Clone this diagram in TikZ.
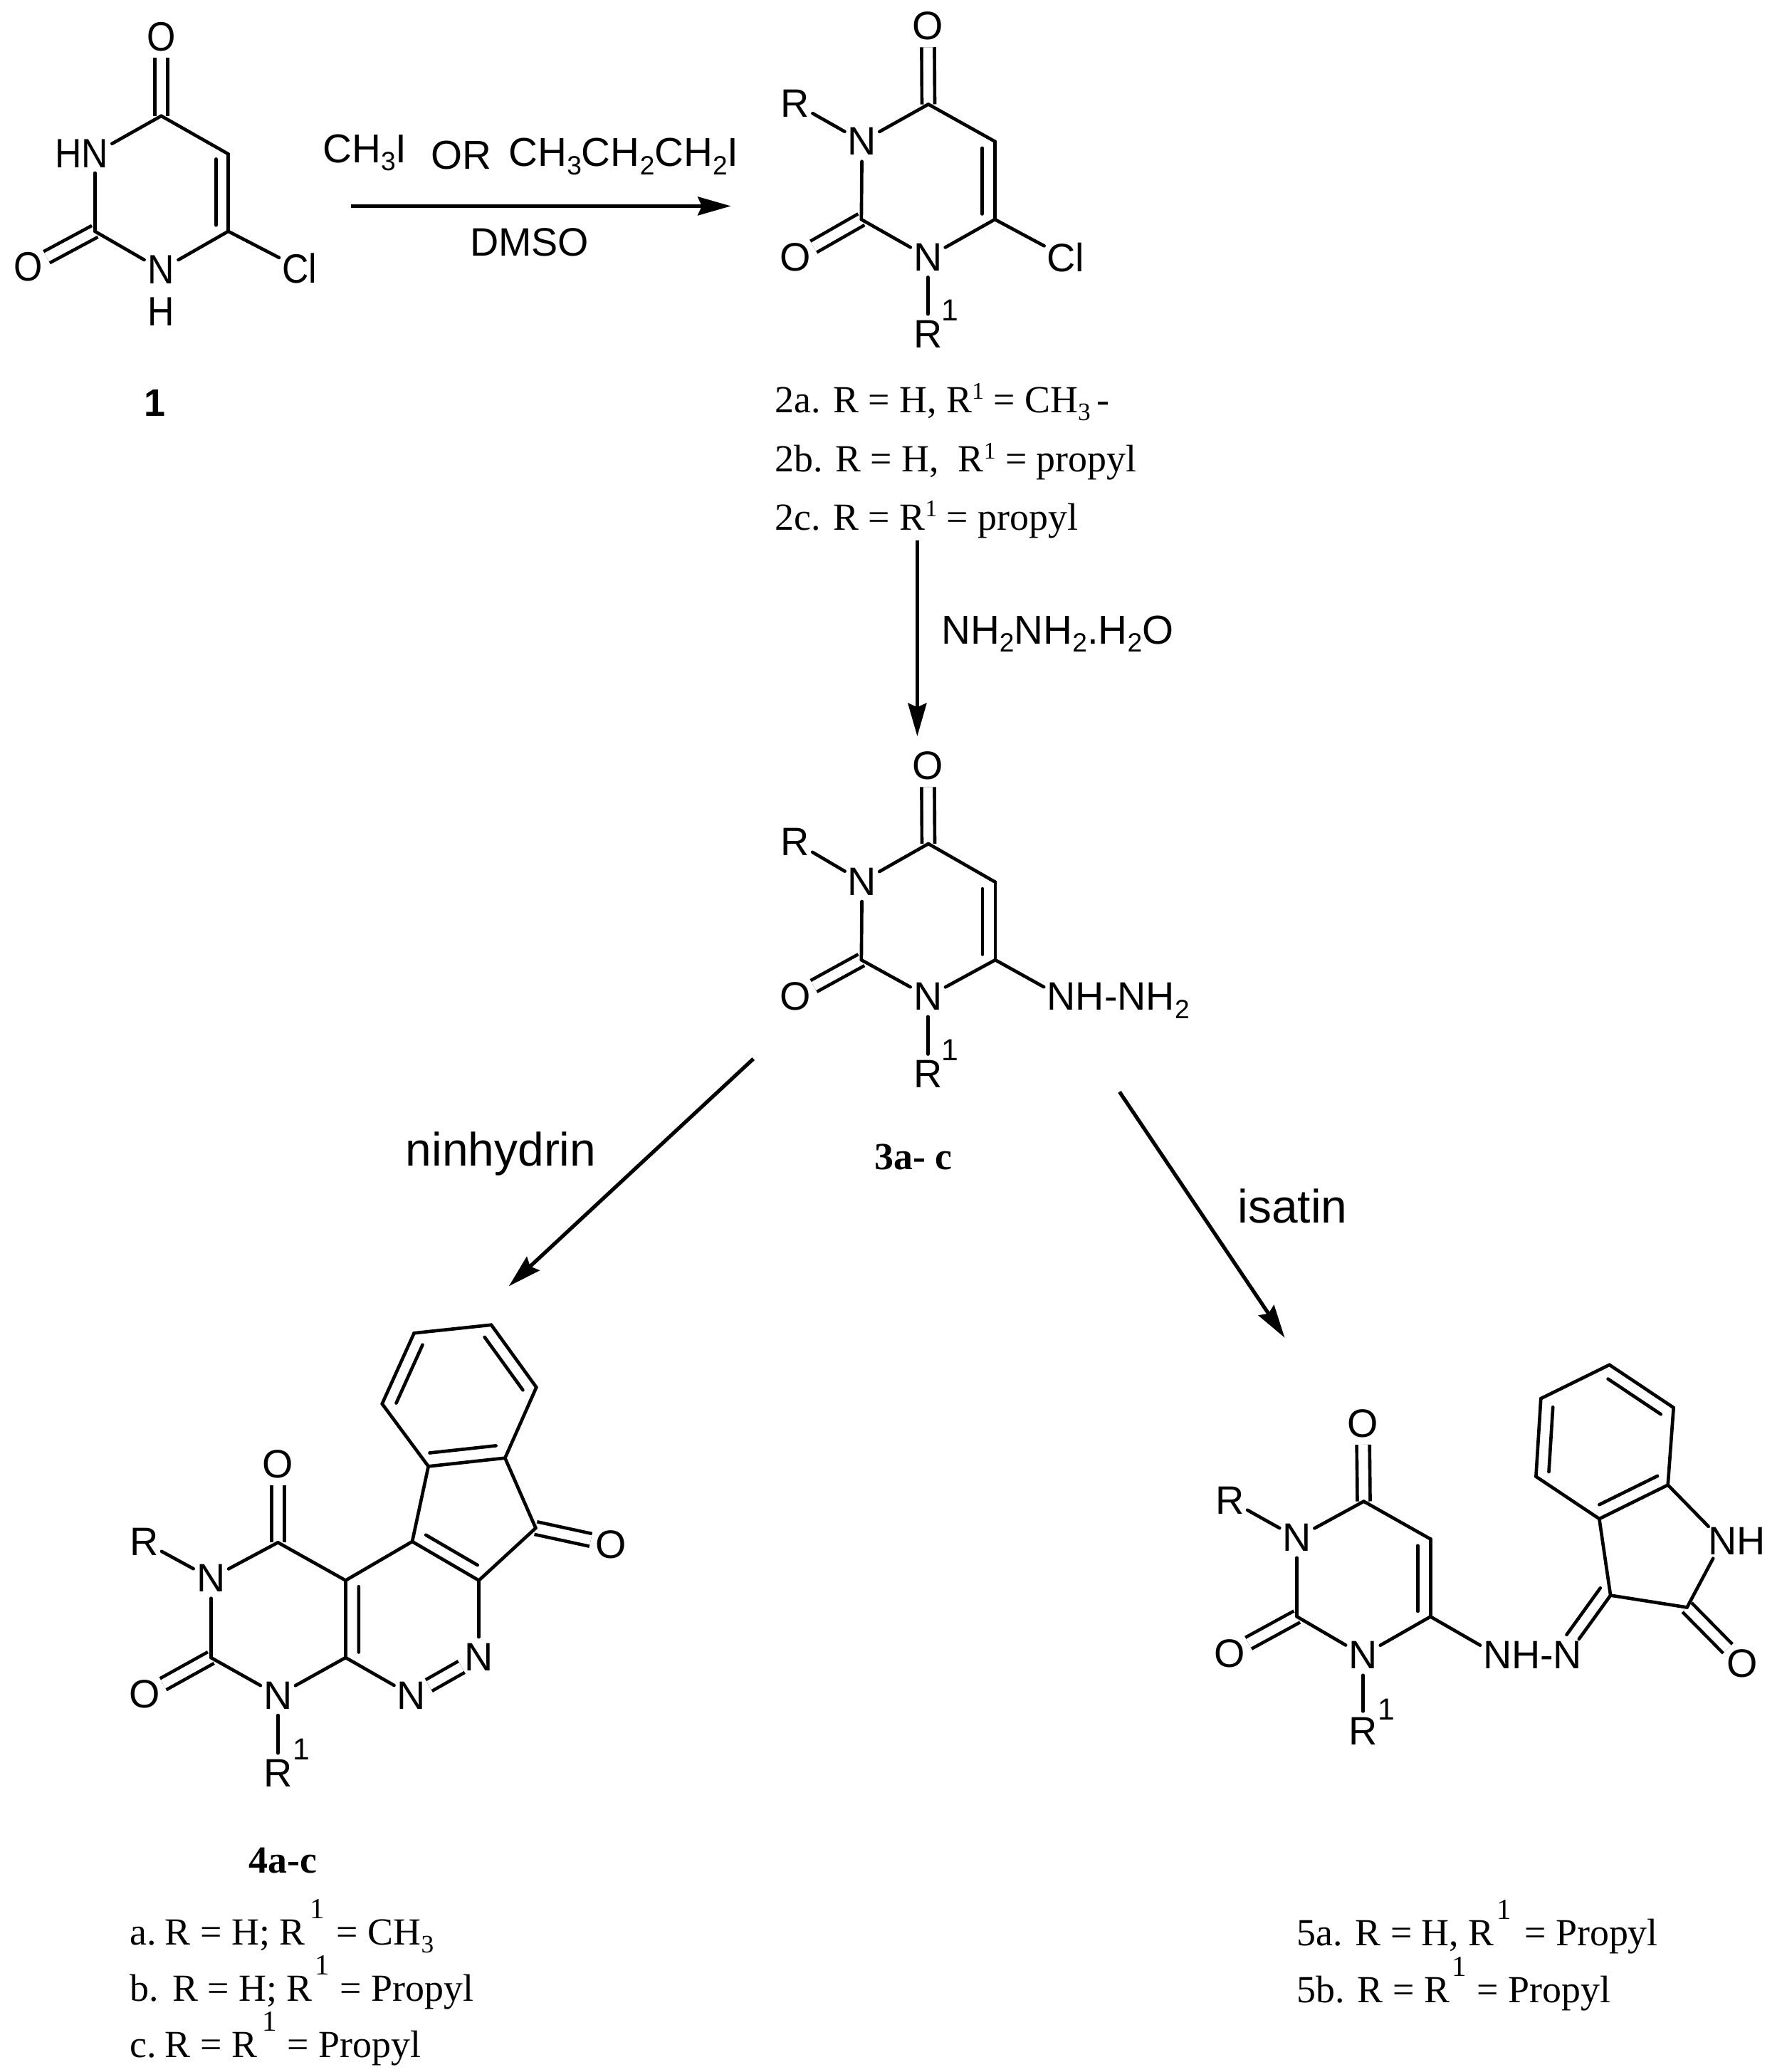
\documentclass[tikz,border=0pt]{standalone}
\usepackage{fontspec}
\setmainfont{Liberation Serif}
\setsansfont{Liberation Sans}
\newfontfamily\narrowsans[FakeStretch=0.9]{Liberation Sans}
\usepackage{tikz}
\usetikzlibrary{calc}
\usetikzlibrary{arrows.meta}

\newcommand{\sbs}[1]{\raisebox{-6pt}{\fontsize{20}{20}\selectfont #1}}
\newcommand{\tsb}[1]{\raisebox{-6pt}{\fontsize{19}{19}\selectfont #1}}
\newcommand{\tsp}[1]{\raisebox{10pt}{\fontsize{18}{18}\selectfont #1}}
\newcommand{\bsp}[1]{\raisebox{20pt}{\fontsize{22}{22}\selectfont #1}}
\newcommand{\innerbond}[5]{\draw [bond] ($(#1)!#4!(#2)!#3!90:(#2)$)-- ($(#1)!#5!(#2)!#3!90:(#2)$);}

\begin{document}
\begin{tikzpicture}[x=1pt,y=-1pt,>={Stealth[length=25pt,width=14pt,inset=3pt]},
  atom/.style={circle,inner sep=0pt,font=\sffamily\fontsize{30}{30}\selectfont},
  narrow atom/.style={circle,inner sep=0pt,font=\narrowsans\fontsize{31}{31}\selectfont},
  sup/.style={inner sep=0pt,font=\sffamily\fontsize{23}{23}\selectfont},
  lab/.style={inner sep=0pt,anchor=base west,font=\sffamily\fontsize{30.5}{30.5}\selectfont},
  cmpd/.style={inner sep=0pt,anchor=base,font=\rmfamily\bfseries\fontsize{29}{29}\selectfont},
  capt/.style={inner sep=0pt,anchor=base west,font=\rmfamily\fontsize{29}{29}\selectfont},
  bond/.style={line width=2.5pt,line cap=round},
  cobond/.style={line width=2.5pt,double,double distance=7.2pt},
  step arrow/.style={line width=2.8pt,->}]

\useasboundingbox (0,0) rectangle (1352,1567.5);

\node [narrow atom] (oa4) at (122,28) {O};
\node [narrow atom] (oa2) at (21.5,202) {O};
\node [narrow atom] (na3) at (71.8,116) {\llap{H}N};
\node [narrow atom] (na1) at (122,204) {N};
\node [narrow atom] (ha1) at (122,236) {H};
\node [narrow atom] (cla) at (226.8,203) {Cl};
\coordinate (ca4) at (122,87.7);
\coordinate (ca5) at (172.7,116.5);
\coordinate (ca6) at (172.7,175);
\coordinate (ca2) at (71.8,175);
\draw [cobond] (ca4)-- (oa4);
\draw [cobond] (ca2)-- (oa2);
\draw [bond] (na3)-- (ca4);
\draw [bond] (ca4)-- (ca5);
\draw [bond] (ca5)-- (ca6);
\draw [bond] (ca6)-- (na1);
\draw [bond] (na1)-- (ca2);
\draw [bond] (ca2)-- (na3);
\draw [bond] (ca6)-- (cla);
\innerbond{ca5}{ca6}{-9.2pt}{.065}{.92}
\node [cmpd,font=\sffamily\bfseries\fontsize{29}{29}\selectfont] (ta) at (117,315) {1};

\node [lab] (ra) at (244,123) {CH\sbs{3}I};
\node [lab] (rb) at (325.8,127.8) {OR};
\node [lab] (rc) at (384.7,126) {CH\sbs{3}CH\sbs{2}CH\sbs{2}I};
\node [lab,anchor=base,font=\sffamily\fontsize{30}{30}\selectfont] (rd) at (400.6,193.4) {DMSO};
\coordinate (sa) at (265.7,155.9);
\coordinate (ea) at (553,155.9);
\draw [step arrow] (sa)-- (ea);

\node [atom] (ob4) at (702,19.8) {O};
\node [atom] (ob2) at (601.7,194.6) {O};
\node [atom] (nb3) at (652.2,107) {N};
\node [atom] (nb1) at (702,194.6) {N};
\node [atom] (rb3) at (601.7,78.3) {R};
\node [atom] (rb1) at (702,252.8) {R};
\node [sup] (sb1) at (719,235) {1};
\node [atom] (clb) at (806,194.6) {Cl};
\coordinate (cb4) at (702.4,78.9);
\coordinate (cb5) at (752.7,107);
\coordinate (cb6) at (752.7,166);
\coordinate (cb2) at (651.7,166);
\draw [cobond] (cb4)-- (ob4);
\draw [cobond] (cb2)-- (ob2);
\draw [bond] (nb3)-- (cb4);
\draw [bond] (cb4)-- (cb5);
\draw [bond] (cb5)-- (cb6);
\draw [bond] (cb6)-- (nb1);
\draw [bond] (nb1)-- (cb2);
\draw [bond] (cb2)-- (nb3);
\draw [bond] (cb6)-- (clb);
\draw [bond] (nb3)-- (rb3);
\draw [bond] (nb1)-- (rb1);
\innerbond{cb5}{cb6}{-9.7pt}{.085}{.93}
\node [capt] (tb1) at (586,312) {2a. R = H, R\tsp{1} = CH\tsb{3}\,-};
\node [capt] (tb2) at (586,357) {2b. R = H, \ R\tsp{1} = propyl};
\node [capt] (tb3) at (586,401) {2c. R = R\tsp{1} = propyl};

\coordinate (sb) at (694,409);
\coordinate (eb) at (694,557);
\draw [step arrow] (sb)-- (eb);
\node [lab] (rf) at (712,487) {NH\sbs{2}NH\sbs{2}.H\sbs{2}O};

\node [atom] (oc4) at (702,579.5) {O};
\node [atom] (oc2) at (601.7,753.7) {O};
\node [atom] (nc3) at (652.2,666.8) {N};
\node [atom] (nc1) at (702,754) {N};
\node [atom] (rc3) at (601.7,637) {R};
\node [atom] (rc1) at (702,812.6) {R};
\node [sup] (sc1) at (719,794.5) {1};
\node [atom] (nc6) at (803,754) {N\smash{\rlap{H-NH\sbs{2}}}};
\coordinate (cc4) at (702.4,638.3);
\coordinate (cc5) at (753,667.3);
\coordinate (cc6) at (753,726.2);
\coordinate (cc2) at (651.7,726.2);
\draw [cobond] (cc4)-- (oc4);
\draw [cobond] (cc2)-- (oc2);
\draw [bond] (nc3)-- (cc4);
\draw [bond] (cc4)-- (cc5);
\draw [bond] (cc5)-- (cc6);
\draw [bond] (cc6)-- (nc1);
\draw [bond] (nc1)-- (cc2);
\draw [bond] (cc2)-- (nc3);
\draw [bond] (cc6)-- (nc6);
\draw [bond] (nc3)-- (rc3);
\draw [bond] (nc1)-- (rc1);
\innerbond{cc5}{cc6}{-9.7pt}{.085}{.93}
\node [cmpd] (tc) at (691,885) {3a- c};

\coordinate (sc) at (570,801);
\coordinate (ec) at (385,973);
\coordinate (sd) at (847,826);
\coordinate (ed) at (972,1012);
\draw [step arrow] (sc)-- (ec);
\draw [step arrow] (sd)-- (ed);
\node [lab,anchor=base,font=\sffamily\fontsize{35.5}{35.5}\selectfont] (rg) at (379,882) {ninhydrin};
\node [lab,anchor=base,font=\sffamily\fontsize{35.5}{35.5}\selectfont] (rh) at (978,925) {isatin};

\node [atom] (od4) at (210.3,1107.5) {O};
\node [atom] (od2) at (109.5,1281.8) {O};
\node [atom] (od9) at (462.5,1168.4) {O};
\node [atom] (nd3) at (159.6,1194) {N};
\node [atom] (nd1) at (210.3,1282.5) {N};
\node [atom] (nd7) at (311.3,1282.5) {N};
\node [atom] (nd8) at (362.3,1253.5) {N};
\node [atom] (rd3) at (109,1166.4) {R};
\node [atom] (rd1) at (210.3,1341.4) {R};
\node [sup] (sd1) at (227.8,1323.3) {1};
\coordinate (cd4) at (210.3,1166.9);
\coordinate (cd5) at (261.5,1195.6);
\coordinate (cd6) at (261.5,1254);
\coordinate (cd2) at (159.6,1254);
\coordinate (cd10) at (311.9,1166.2);
\coordinate (cd9) at (362.3,1195.6);
\coordinate (cd11) at (324.1,1109.3);
\coordinate (cd12) at (382.1,1103);
\coordinate (cd13) at (405.3,1156);
\coordinate (be1) at (289.1,1062);
\coordinate (be2) at (313.3,1008.5);
\coordinate (be3) at (371.7,1002.3);
\coordinate (be4) at (405.8,1049.5);
\draw [cobond] (cd4)-- (od4);
\draw [cobond] (cd2)-- (od2);
\draw [cobond] (cd13)-- (od9);
\draw [cobond] (nd7)-- (nd8);
\draw [bond] (nd3)-- (cd4);
\draw [bond] (cd4)-- (cd5);
\draw [bond] (cd5)-- (cd6);
\draw [bond] (cd6)-- (nd1);
\draw [bond] (nd1)-- (cd2);
\draw [bond] (cd2)-- (nd3);
\draw [bond] (nd3)-- (rd3);
\draw [bond] (nd1)-- (rd1);
\draw [bond] (cd5)-- (cd10);
\draw [bond] (cd10)-- (cd9);
\draw [bond] (cd9)-- (nd8);
\draw [bond] (cd6)-- (nd7);
\draw [bond] (cd10)-- (cd11);
\draw [bond] (cd11)-- (cd12);
\draw [bond] (cd12)-- (cd13);
\draw [bond] (cd13)-- (cd9);
\draw [bond] (cd11)-- (be1);
\draw [bond] (be1)-- (be2);
\draw [bond] (be2)-- (be3);
\draw [bond] (be3)-- (be4);
\draw [bond] (be4)-- (cd12);
\innerbond{cd5}{cd6}{9.9pt}{.08}{.93}
\innerbond{cd10}{cd9}{9.5pt}{.11}{.885}
\innerbond{cd11}{cd12}{10pt}{.035}{.9}
\innerbond{be2}{be1}{9.5pt}{.092}{.916}
\innerbond{be3}{be4}{-9.5pt}{.078}{.927}
\node [cmpd] (td) at (214,1417) {4a-c};
\node [capt] (td1) at (98,1471.4) {a.\hspace{-3pt} R = H; R\hspace{4pt}\bsp{1}\hspace{9pt}= CH\tsb{3}};
\node [capt] (td2) at (98,1513.7) {b. \hspace{1pt}R = H; R\hspace{2pt}\bsp{1}\hspace{8pt}= Propyl};
\node [capt] (td3) at (98,1556.7) {c.\hspace{-3pt} R = R\hspace{4pt}\bsp{1}\hspace{8pt}= Propyl};

\node [atom] (oe4) at (1031.2,1077) {O};
\node [atom] (oe2) at (930.6,1250.7) {O};
\node [atom] (ne3) at (981.3,1163.4) {N};
\node [atom] (ne1) at (1031.2,1252.2) {N};
\node [atom] (re3) at (930.6,1135) {R};
\node [atom] (re1) at (1031.2,1309.7) {R};
\node [sup] (se1) at (1048.9,1293.3) {1};
\node [atom] (ne6) at (1133,1252.2) {N\smash{\rlap{H-}}};
\node [atom] (ne7) at (1185.8,1252.2) {N};
\node [atom] (ne8) at (1303.2,1165.6) {N\smash{\rlap{H}}};
\node [atom] (oe9) at (1318.4,1258.6) {O};
\coordinate (ce4) at (1031.8,1135.8);
\coordinate (ce5) at (1082.3,1164.3);
\coordinate (ce6) at (1082.3,1223);
\coordinate (ce2) at (981.3,1223);
\coordinate (ce10) at (1218.5,1206.9);
\coordinate (ce11) at (1276.4,1216);
\coordinate (ce12) at (1261.9,1123.4);
\coordinate (ce13) at (1210,1149);
\coordinate (bf1) at (1162.1,1117);
\coordinate (bf2) at (1165.8,1058);
\coordinate (bf3) at (1217.7,1032.5);
\coordinate (bf4) at (1266.2,1064.9);
\draw [cobond] (ce4)-- (oe4);
\draw [cobond] (ce2)-- (oe2);
\draw [cobond] (ce11)-- (oe9);
\draw [bond] (ne3)-- (ce4);
\draw [bond] (ce4)-- (ce5);
\draw [bond] (ce5)-- (ce6);
\draw [bond] (ce6)-- (ne1);
\draw [bond] (ne1)-- (ce2);
\draw [bond] (ce2)-- (ne3);
\draw [bond] (ne3)-- (re3);
\draw [bond] (ne1)-- (re1);
\draw [bond] (ce6)-- (ne6);
\draw [bond] (ce10)-- (ne7);
\draw [bond] (ce10)-- (ce11);
\draw [bond] (ce11)-- (ne8);
\draw [bond] (ne8)-- (ce12);
\draw [bond] (ce12)-- (ce13);
\draw [bond] (ce13)-- (ce10);
\draw [bond] (ce13)-- (bf1);
\draw [bond] (bf1)-- (bf2);
\draw [bond] (bf2)-- (bf3);
\draw [bond] (bf3)-- (bf4);
\draw [bond] (bf4)-- (ce12);
\innerbond{ce5}{ce6}{-9.7pt}{.085}{.93}
\innerbond{ce13}{ce12}{9.6pt}{.082}{.93}
\innerbond{bf1}{bf2}{-9.5pt}{.07}{.9}
\innerbond{bf3}{bf4}{-9.5pt}{.086}{.91}
\innerbond{ce10}{ne7}{-9.5pt}{0}{.78}
\node [capt] (te1) at (981,1472) {5a. R = H, R\hspace{2pt}\bsp{1}\hspace{10pt}= Propyl};
\node [capt] (te2) at (981,1515) {5b. R = R\hspace{2pt}\bsp{1}\hspace{8pt}= Propyl};

\end{tikzpicture}
\end{document}
